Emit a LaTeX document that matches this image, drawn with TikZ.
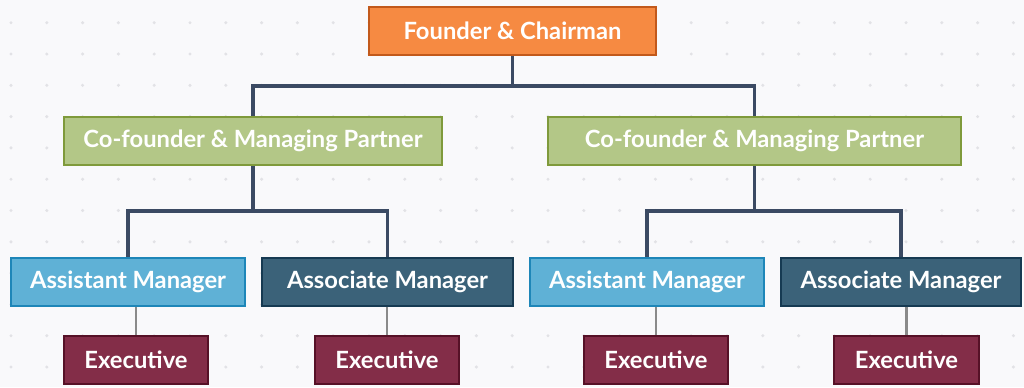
\documentclass[tikz,border=0pt]{standalone}
\usepackage{fontspec}
\setmainfont{Lato}

\definecolor{paper}{HTML}{F9F9FB}
\definecolor{griddot}{HTML}{E2E2E6}
\definecolor{founderfill}{HTML}{F68A42}
\definecolor{founderline}{HTML}{C2591B}
\definecolor{partnerfill}{HTML}{B3C787}
\definecolor{partnerline}{HTML}{7F9A3B}
\definecolor{assistfill}{HTML}{5FB1D6}
\definecolor{assistline}{HTML}{1E86B8}
\definecolor{assocfill}{HTML}{3B6279}
\definecolor{assocline}{HTML}{163A52}
\definecolor{execfill}{HTML}{832D48}
\definecolor{execline}{HTML}{561127}
\definecolor{linkcol}{HTML}{3B4A63}
\definecolor{sublinkcol}{HTML}{8A8A8A}

\begin{document}
\begin{tikzpicture}[x=0.75pt,y=-0.75pt,
    box/.style={draw, line width=1.5pt, minimum height=36pt, inner sep=0pt,
                text=white, font=\bfseries\fontsize{17.8}{20}\selectfont},
    wd/.style={minimum width=#1*0.75pt},
    founder/.style={box, fill=founderfill, draw=founderline},
    partner/.style={box, fill=partnerfill, draw=partnerline},
    assist/.style={box, fill=assistfill, draw=assistline},
    assoc/.style={box, fill=assocfill, draw=assocline},
    exec/.style={box, fill=execfill, draw=execline},
    link/.style={draw=linkcol, line width=2.3pt},
    sublink/.style={draw=sublinkcol, line width=1.9pt}]

    % page and dotted grid
    \fill[paper] (0,0) rectangle (1024,387);
    \foreach \i in {0,...,28}
        \foreach \j in {0,...,11}
            \fill[griddot] (11+35.8*\i, 22.7+31.3*\j) circle (1.7);

    % boxes
    \node[founder, wd=287] (chair) at (512.5,30.5) {Founder \& Chairman};

    \node[partner, wd=378] (partnerL) at (253,140.5) {Co-founder \& Managing Partner};
    \node[partner, wd=413] (partnerR) at (754.5,140.5) {Co-founder \& Managing Partner};

    \node[assist, wd=234] (assistL) at (128,281.5) {Assistant Manager};
    \node[assoc, wd=251] (assocL) at (387.5,281.5) {Associate Manager};
    \node[assist, wd=234] (assistR) at (647,281.5) {Assistant Manager};
    \node[assoc, wd=240] (assocR) at (901,281.5) {Associate Manager};

    \node[exec, wd=144] (execA) at (136,360) {Executive};
    \node[exec, wd=144] (execB) at (387,360) {Executive};
    \node[exec, wd=144] (execC) at (656,360) {Executive};
    \node[exec, wd=145] (execD) at (906.5,360) {Executive};

    % bus points
    \coordinate (busTop) at (chair.south |- 0,86);
    \coordinate (busL) at (partnerL.south |- 0,211);
    \coordinate (busR) at (partnerR.south |- 0,211);

    % connectors
    \draw[link] (chair.south) -- (busTop);
    \draw[link] (partnerL.north) |- (busTop) -| (partnerR.north);
    \draw[link] (partnerL.south) -- (busL);
    \draw[link] (assistL.north) |- (busL) -| (assocL.north);
    \draw[link] (partnerR.south) -- (busR);
    \draw[link] (assistR.north) |- (busR) -| (assocR.north);

    \draw[sublink] (execA.north |- assistL.south) -- (execA.north);
    \draw[sublink] (execB.north |- assocL.south) -- (execB.north);
    \draw[sublink] (execC.north |- assistR.south) -- (execC.north);
    \draw[sublink] (execD.north |- assocR.south) -- (execD.north);
\end{tikzpicture}
\end{document}
